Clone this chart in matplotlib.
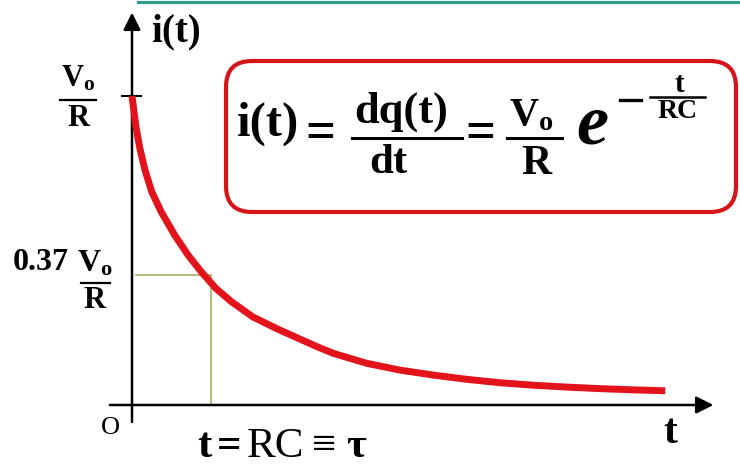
import matplotlib
matplotlib.use("Agg")
import matplotlib.pyplot as plt
from matplotlib.patches import FancyBboxPatch

# ---- data (t in units of tau = RC, i in units of V0/R)
t_tau = [0.0, 0.05, 0.10, 0.165, 0.25, 0.37, 0.54, 0.71, 0.88, 1.06, 1.26, 1.53,
         1.85, 2.13, 2.34, 2.55, 2.97, 3.39, 3.81, 4.24, 4.66, 5.08, 5.50, 5.92,
         6.35, 6.75]
i_norm = [1.0, 0.90, 0.83, 0.76, 0.69, 0.625, 0.55, 0.485, 0.43, 0.378, 0.334,
          0.285, 0.245, 0.213, 0.189, 0.167, 0.135, 0.113, 0.097, 0.083, 0.072,
          0.064, 0.058, 0.053, 0.049, 0.046]
tau_t = 1.0          # t = RC
tau_level = 0.42     # drawn level of the 0.37 V0/R guide

plt.rcParams['mathtext.fontset'] = 'custom'
plt.rcParams['mathtext.rm'] = 'Liberation Serif'
plt.rcParams['mathtext.bf'] = 'Liberation Serif:bold'
plt.rcParams['mathtext.it'] = 'Liberation Serif:italic'

SERIF = ['Liberation Serif', 'DejaVu Serif']
W, H = 740, 465
fig = plt.figure(figsize=(W / 100, H / 100), dpi=100)
fig.patch.set_facecolor('white')

# data axes (pixel mapping: x_px = 132 + 79 t, y_px = 405 - 309 i)
ax = fig.add_axes([0, 0, 1, 1])
ax.set_xlim(-132 / 79, (W - 132) / 79)
ax.set_ylim((405 - H) / 309, 405 / 309)
ax.axis('off')

# guide lines at t = RC
ax.plot([0.05, tau_t], [tau_level, tau_level], color='#a8b060', lw=1.2, zorder=2)
ax.plot([tau_t, tau_t], [tau_level, 0], color='#a8b060', lw=1.2, zorder=2)

# axes with arrows
ax.annotate('', xy=(0, 1.27), xytext=(0, -0.055),
            arrowprops=dict(arrowstyle='-|>', color='black', lw=1.8,
                            mutation_scale=26, shrinkA=0, shrinkB=0), zorder=3)
ax.annotate('', xy=(7.36, 0), xytext=(-0.28, 0),
            arrowprops=dict(arrowstyle='-|>', color='black', lw=1.8,
                            mutation_scale=26, shrinkA=0, shrinkB=0), zorder=3)
ax.plot([-0.127, 0.114], [1.0, 1.0], color='black', lw=1.5, zorder=3)

# the current curve
ax.plot(t_tau, i_norm, color='#e3131b', lw=5, solid_capstyle='butt',
        solid_joinstyle='round', zorder=4)

# annotation axes in pixel coordinates
ann = fig.add_axes([0, 0, 1, 1])
ann.set_xlim(0, W)
ann.set_ylim(H, 0)
ann.axis('off')

# teal line at the top
ann.plot([138, W], [2, 2], color='#2f9a8f', lw=2.3)

# axis labels
ann.text(176, 32, 'i(t)', fontsize=28, fontweight='bold', family=SERIF,
         ha='center', va='center')
ann.text(670, 433, 't', fontsize=30, fontweight='bold', family=SERIF,
         ha='center', va='center')
ann.text(110, 428, 'O', fontsize=19, family=SERIF, ha='center', va='center')

# t = RC ≡ tau (bold t, =, tau ; regular RC, ≡)
for xs, s, w in [(197, 't', 'bold'), (217, '=', 'bold'), (247, 'RC', 'normal'),
                 (312, '≡', 'normal'), (346, 'τ', 'bold')]:
    ann.text(xs, 457, s, fontsize=31, fontweight=w, family=SERIF,
             ha='left', va='baseline')

# V0 / R on the y axis
ann.text(78, 78, r'$\mathbf{V_o}$', fontsize=22, ha='center', va='center')
ann.plot([60, 96], [100, 100], color='black', lw=1.6)
ann.text(78, 118, 'R', fontsize=22, fontweight='bold', family=SERIF,
         ha='center', va='center')

# 0.37 V0 / R
ann.text(41, 262, '0.37', fontsize=23, fontweight='bold', family=SERIF,
         ha='center', va='center')
ann.text(95, 263, r'$\mathbf{V_o}$', fontsize=23, ha='center', va='center')
ann.plot([81, 110], [283, 283], color='black', lw=1.6)
ann.text(95, 300, 'R', fontsize=22, fontweight='bold', family=SERIF,
         ha='center', va='center')

# formula box
box = FancyBboxPatch((226, 61), 510, 151,
                     boxstyle='round,pad=0,rounding_size=26',
                     facecolor='white', edgecolor='#d7141a', lw=3.0)
ann.add_patch(box)

ann.text(268, 124, 'i(t)', fontsize=35, fontweight='bold', family=SERIF,
         ha='center', va='center')
ann.text(320, 134, '=', fontsize=38, fontweight='bold', family=SERIF,
         ha='center', va='center')
ann.text(401, 112, 'dq(t)', fontsize=32, fontweight='bold', family=SERIF,
         ha='center', va='center')
ann.plot([352, 462], [138, 138], color='black', lw=2.2)
ann.text(388, 163, 'dt', fontsize=31, fontweight='bold', family=SERIF,
         ha='center', va='center')
ann.text(480, 134, '=', fontsize=38, fontweight='bold', family=SERIF,
         ha='center', va='center')
ann.text(531, 114, r'$\mathbf{V_o}$', fontsize=29, ha='center', va='center')
ann.plot([507, 562], [138, 138], color='black', lw=2.2)
ann.text(536, 164, 'R', fontsize=30, fontweight='bold', family=SERIF,
         ha='center', va='center')
ann.text(592, 126, 'e', fontsize=52, fontweight='bold', fontstyle='italic',
         family=SERIF, ha='center', va='center')
ann.plot([620, 641], [100, 100], color='black', lw=2.4)
ann.text(679, 85, 't', fontsize=21, fontweight='bold', family=SERIF,
         ha='center', va='center')
ann.plot([650, 705], [97, 97], color='black', lw=1.8)
ann.text(678, 111, 'RC', fontsize=20, fontweight='bold', family=SERIF,
         ha='center', va='center')

fig.savefig('out.png', dpi=100, facecolor='white')
